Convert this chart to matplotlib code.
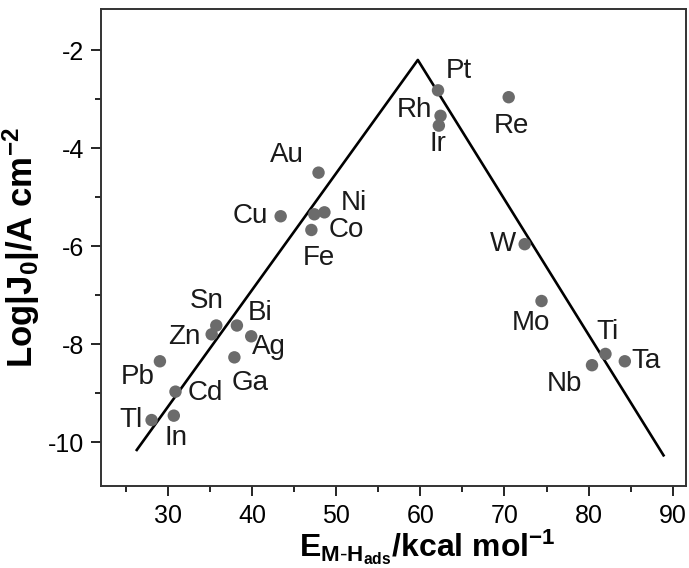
import matplotlib
matplotlib.use('Agg')
import matplotlib.pyplot as plt
from matplotlib.ticker import MultipleLocator

plt.rcParams['font.family'] = ['Liberation Sans', 'DejaVu Sans']
plt.rcParams['mathtext.fontset'] = 'custom'
plt.rcParams['mathtext.rm'] = 'Liberation Sans'
plt.rcParams['mathtext.bf'] = 'Liberation Sans:bold'
plt.rcParams['mathtext.it'] = 'Liberation Sans:italic'
plt.rcParams['axes.unicode_minus'] = False

# metals, bond energy (kcal/mol), log exchange current density
metals = ['Pt', 'Rh', 'Ir', 'Re', 'W', 'Mo', 'Ti', 'Nb', 'Ta',
          'Au', 'Cu', 'Ni', 'Co', 'Fe',
          'Sn', 'Zn', 'Bi', 'Ag', 'Ga', 'Pb', 'Cd', 'Tl', 'In']
energy = [62.1, 62.4, 62.2, 70.5, 72.4, 74.4, 82.0, 80.4, 84.3,
          47.9, 43.4, 48.6, 47.4, 47.05,
          35.75, 35.2, 38.2, 39.9, 37.9, 29.05, 30.9, 28.06, 30.7]
logj0 = [-2.82, -3.34, -3.54, -2.96, -5.96, -7.12, -8.20, -8.43, -8.35,
         -4.50, -5.39, -5.31, -5.35, -5.67,
         -7.62, -7.80, -7.62, -7.84, -8.27, -8.35, -8.97, -9.55, -9.46]
# label offsets in pixels (dx, dy)
label_dx = [21, -26, -1, 3, -22, -11, 2, -28, 21,
            -32, -30, 29, 32, 7,
            -10, -27, 23, 18, 16, -22, 30, -21, 2]
label_dy = [19, 6, -18, -29, 0, -22, 22, -19, 0,
            18, 0, 9, -16, -28,
            25, -3, 13, -11, -26, -16, -1, 0, -22]

# volcano lines
volcano_x = [26.3, 59.7, 88.9]
volcano_y = [-10.16, -2.2, -10.27]

fig = plt.figure(figsize=(6.89, 5.68), dpi=100)
ax = fig.add_axes([0.146, 0.144, 0.85, 0.841])

ax.plot(volcano_x, volcano_y, color='black', lw=1.9, zorder=2)
ax.scatter(energy, logj0, s=80, color='#6b6b6b', zorder=3, edgecolors='none')

for m, x, y, dx, dy in zip(metals, energy, logj0, label_dx, label_dy):
    ax.annotate(m, (x, y), xytext=(dx, dy), textcoords='offset pixels',
                ha='center', va='center', fontsize=20, color='#1a1a1a')

ax.set_xlim(22.0, 91.6)
ax.set_ylim(-10.9, -1.15)
ax.xaxis.set_major_locator(MultipleLocator(10))
ax.xaxis.set_minor_locator(MultipleLocator(5))
ax.yaxis.set_major_locator(MultipleLocator(2))
ax.yaxis.set_minor_locator(MultipleLocator(1))
ax.tick_params(which='major', direction='out', length=7, width=1.2, labelsize=18, pad=5)
ax.tick_params(axis='x', which='major', pad=6)
ax.tick_params(which='minor', direction='out', length=4, width=1.2)
for sp in ax.spines.values():
    sp.set_linewidth(1.4)
    sp.set_color('#333333')

fig.text(0.62, 0.02, r'$\mathbf{E_{M\text{-}H_{ads}}/kcal\ mol^{-1}}$', fontsize=23,
         ha='center', va='baseline')
ax.set_ylabel(r'$\mathbf{Log|J_0|/A\ cm^{-2}}$', fontsize=25, labelpad=4)

fig.savefig('out.png', dpi=100)
